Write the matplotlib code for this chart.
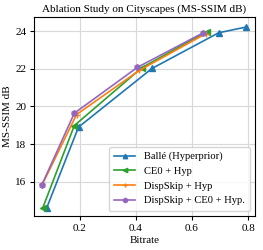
import matplotlib
matplotlib.use("Agg")
import matplotlib.pyplot as plt

plt.rcParams.update({
    "font.family": "serif",
    "font.serif": ["Liberation Serif", "DejaVu Serif"],
    "font.size": 8,
    "axes.titlesize": 8,
    "axes.labelsize": 8,
    "xtick.labelsize": 8,
    "ytick.labelsize": 8,
    "legend.fontsize": 7.6,
})

# Rate-distortion points
BALLE_X = [0.081, 0.195, 0.457, 0.695, 0.791]
BALLE_Y = [14.58, 18.90, 22.02, 23.92, 24.22]
CE0_X = [0.068, 0.180, 0.420, 0.652]
CE0_Y = [14.62, 18.98, 22.05, 23.98]
DSKIP_X = [0.066, 0.188, 0.412, 0.650]
DSKIP_Y = [15.85, 19.57, 21.92, 23.88]
DSKIP_CE0_X = [0.064, 0.180, 0.405, 0.640]
DSKIP_CE0_Y = [15.82, 19.64, 22.08, 23.92]

SERIES = [
    (BALLE_X, BALLE_Y, "Ballé (Hyperprior)", "#1f77b4", "^"),
    (CE0_X, CE0_Y, "CE0 + Hyp", "#2ca02c", "<"),
    (DSKIP_X, DSKIP_Y, "DispSkip + Hyp", "#ff7f0e", "+"),
    (DSKIP_CE0_X, DSKIP_CE0_Y, "DispSkip + CE0 + Hyp.", "#9467bd", "h"),
]

fig = plt.figure(figsize=(2.63, 2.5), dpi=100)
ax = fig.add_axes([0.129, 0.136, 0.841, 0.796])

for xs, ys, label, color, marker in SERIES:
    ax.plot(xs, ys, color=color, marker=marker, markersize=4, linewidth=1.2, label=label)

ax.set_xlim(0.036, 0.825)
ax.set_ylim(14.17, 24.76)
ax.set_xticks([0.2, 0.4, 0.6, 0.8])
ax.set_yticks([16, 18, 20, 22, 24])
ax.grid(True, color="#d8d8d8", linewidth=0.8)
ax.set_axisbelow(True)
ax.set_xlabel("Bitrate", labelpad=2.5)
ax.set_ylabel("MS-SSIM dB", labelpad=2)
ax.set_title("Ablation Study on Cityscapes (MS-SSIM dB)", pad=4)
ax.tick_params(length=3, pad=2.5)
ax.legend(loc="lower right", frameon=True, edgecolor="#cccccc", fancybox=True,
          handlelength=2.0, labelspacing=0.5, borderpad=0.5, markerscale=0.8)

fig.savefig("out.png", dpi=100)
